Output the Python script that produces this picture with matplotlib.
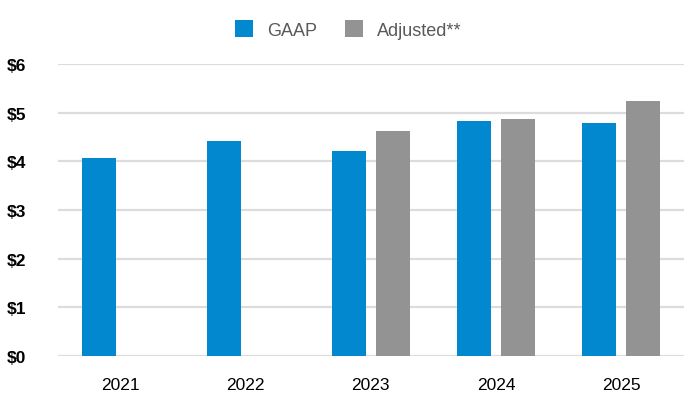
import matplotlib
matplotlib.use("Agg")
import matplotlib.pyplot as plt
import numpy as np

plt.rcParams['font.family'] = ['Liberation Sans', 'DejaVu Sans']

years = ["2021", "2022", "2023", "2024", "2025"]
gaap = [4.08, 4.42, 4.21, 4.83, 4.79]
adjusted = [np.nan, np.nan, 4.62, 4.87, 5.24]
yticks = [0, 1, 2, 3, 4, 5, 6]
ytick_labels = ["$0", "$1", "$2", "$3", "$4", "$5", "$6"]

blue = "#0288CE"
gray = "#939393"

fig = plt.figure(figsize=(6.9, 4.02), dpi=100)
ax = fig.add_axes([0.084, 0.112, 0.907, 0.726])

x = np.arange(len(years))
w = 0.27
off = 0.175
ax.bar(x - off, gaap, width=w, color=blue, label="GAAP", zorder=3)
ax.bar(x + off, adjusted, width=w, color=gray, label="Adjusted**", zorder=3)

ax.set_xlim(-0.5, len(years) - 0.5)
ax.set_ylim(0, 6)
ax.set_yticks(yticks)
ax.set_yticklabels(ytick_labels, fontsize=12.5, fontweight='bold', color='black')
ax.set_xticks(x)
ax.set_xticklabels(years, fontsize=12.5, color='black')
ax.tick_params(axis='both', length=0)
ax.tick_params(axis='y', pad=23)
ax.tick_params(axis='x', pad=15)

ax.grid(axis='y', color='#dcdcdc', linewidth=1.6, zorder=0)
for s in ax.spines.values():
    s.set_visible(False)

leg = fig.legend(loc='center', bbox_to_anchor=(0.505, 0.924), ncol=2, frameon=False,
                 fontsize=13, handlelength=1.0, handleheight=1.0, columnspacing=1.5,
                 handletextpad=0.8)
for t in leg.get_texts():
    t.set_color('#595959')

fig.savefig("out.png", dpi=100)
